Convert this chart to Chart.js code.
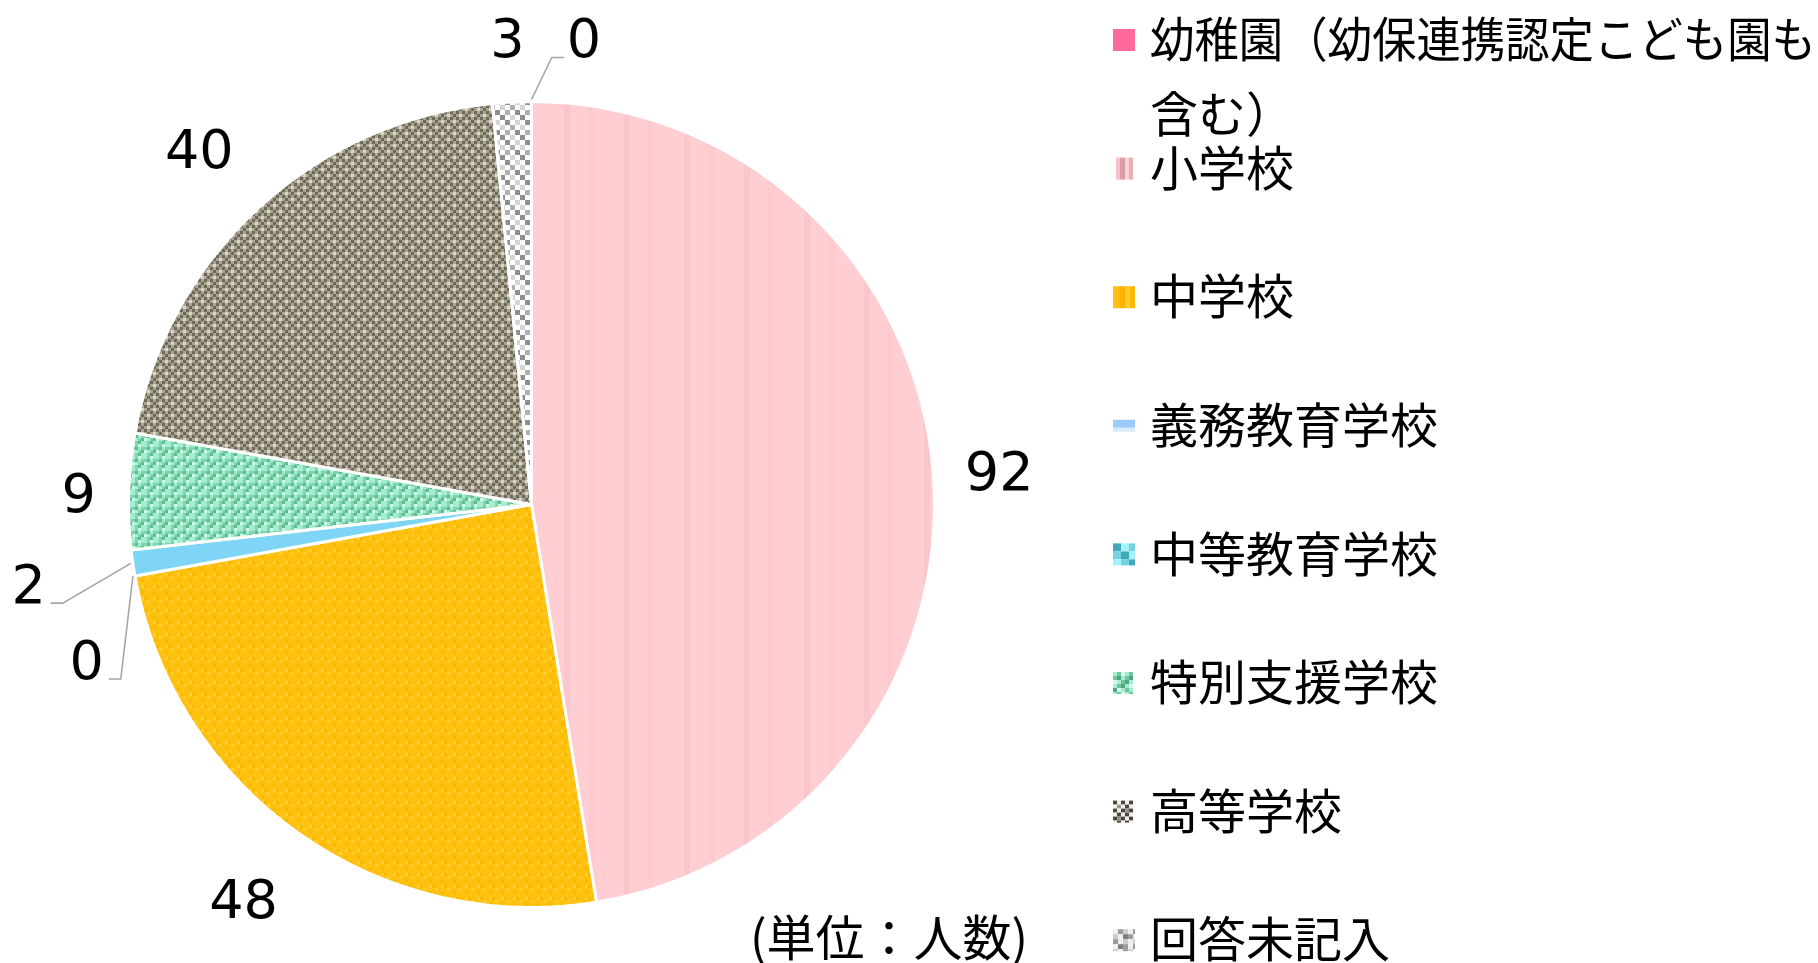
<!DOCTYPE html>
<html><head><meta charset="utf-8">
<script src="https://cdn.jsdelivr.net/npm/chart.js@4.4.1/dist/chart.umd.min.js"></script>
<style>html,body{margin:0;padding:0;background:#fff;} #wrap{width:1818px;height:963px;position:relative;}</style>
</head><body><div id="wrap"><canvas id="c"></canvas></div>
<script>
// ---- data ----
const categories = ['幼稚園（幼保連携認定こども園も含む）','小学校','中学校','義務教育学校','中等教育学校','特別支援学校','高等学校','回答未記入'];
const counts = [0, 92, 48, 0, 2, 9, 40, 3];
const unitNote = '(単位：人数)';

// ---- label placement (style) ----
const labelNudgeDeg = [6.41, 0.42, 0.91, -8.94, -0.53, -0.28, -0.32, -0.16];
const labelExtra = [67, 66, 85, 68, 106, 50, 84, 65];
const labelLeader = [true, false, false, true, true, false, false, false];

function tile(cell, grid, pal) {
  const c = document.createElement('canvas');
  c.width = grid[0].length * cell; c.height = grid.length * cell;
  const x = c.getContext('2d');
  grid.forEach((row, r) => { [...row].forEach((k, i) => { x.fillStyle = pal[k]; x.fillRect(i*cell, r*cell, cell, cell); }); });
  return x.createPattern(c, 'repeat');
}
const pinkPat = tile(3, ['AAAAAAAABBAAAAAACCAA'], {A:'#FFCED3', B:'#FAC6CB', C:'#FCCACF'});
const yellowPat = tile(3, ['ABAA','AAAC','AAAA','CAAB'], {A:'#FFC10F', B:'#FFCC35', C:'#F7B800'});
const mintPat = tile(3, ['ABCA','BDAB','CABD','ABDA'], {A:'#A4EED0', B:'#7ED6AF', C:'#C9FBE7', D:'#62B891'});
const tanPat = tile(3, ['ABAC','BABA','ACAB','BABA'], {A:'#ABA594', B:'#6E6859', C:'#DCD6C6'});
const greyPat = tile(5, ['ABAC','CADA','ADAB','BACA'], {A:'#FFFFFF', B:'#8E8E8E', C:'#D4D4D4', D:'#B0B0B0'});
const sliceFills = ['#FF6A9B', pinkPat, yellowPat, '#9CCBFA', '#7FD5F5', mintPat, tanPat, greyPat];

function drawMarker(ctx, i, x, cy) {
  const s = 22, y = cy - s/2;
  const cells = (cell, grid, pal) => grid.forEach((row, r) => [...row].forEach((k, j) => {
    const w = Math.min(cell, s - j*cell), h = Math.min(cell, s - r*cell);
    if (w > 0 && h > 0) { ctx.fillStyle = pal[k]; ctx.fillRect(x + j*cell, y + r*cell, w, h); }
  }));
  switch (i) {
    case 0: ctx.fillStyle = '#FF6A9B'; ctx.fillRect(x, y, s, s); break;
    case 1: { const cols = [['#FFFFFF',3],['#F6C4C8',4],['#D99DA3',5],['#FAD3D6',4],['#E8B0B5',4],['#FFFFFF',2]]; let xx = x;
      cols.forEach(([c,w]) => { ctx.fillStyle = c; ctx.fillRect(xx, y, w, s); xx += w; }); break; }
    case 2: { const cols = [['#FFC10F',7],['#FFB000',5],['#FFCA30',5],['#FFB800',5]]; let xx = x;
      cols.forEach(([c,w]) => { ctx.fillStyle = c; ctx.fillRect(xx, y, w, s); xx += w; }); break; }
    case 3: ctx.fillStyle = '#9CCBFA'; ctx.fillRect(x, cy - 6, s, 8); ctx.fillStyle = '#D9ECFD'; ctx.fillRect(x, cy + 2, s, 4); break;
    case 4: cells(8, ['ABC','CAB','BCA'], {A:'#3FA9BA', B:'#A7F1F9', C:'#74D3E2'}); break;
    case 5: cells(4, ['ABCAB','BDABD','CABDA','ABDAC','DCABA','ABCAB'], {A:'#A4EED0', B:'#6FC59E', C:'#D6FCEE', D:'#4FA57E'}); break;
    case 6: cells(4, ['ABABA','BCBAB','ABACA','BABAB','ACABA','BABAB'], {A:'#4A463E', B:'#F0EEE8', C:'#9A968C'}); break;
    case 7: cells(5, ['ABCAB','CADBA','BACAC','ADBAB','CABCA'], {A:'#EEEEEE', B:'#9A9A9A', C:'#CCCCCC', D:'#7E7E7E'}); break;
  }
}

const overlay = {
  id: 'overlay',
  afterDraw(chart) {
    const ctx = chart.ctx;
    const meta = chart.getDatasetMeta(0);
    ctx.save();
    // value labels
    ctx.font = '54px "DejaVu Sans"';
    ctx.textAlign = 'center'; ctx.textBaseline = 'alphabetic';
    meta.data.forEach((arc, i) => {
      const {x: cx, y: cy, startAngle, endAngle, outerRadius} = arc.getProps(['x','y','startAngle','endAngle','outerRadius'], true);
      const mid = (startAngle + endAngle) / 2;
      const a = mid + labelNudgeDeg[i] * Math.PI / 180;
      const d = outerRadius + labelExtra[i];
      const lx = cx + d * Math.cos(a), ly = cy + d * Math.sin(a);
      const txt = String(counts[i]);
      const w = ctx.measureText(txt).width;
      ctx.fillStyle = '#000';
      ctx.fillText(txt, lx, ly + 0.365 * 54);
      if (labelLeader[i]) {
        const sx = cx + (outerRadius + 2) * Math.cos(mid), sy = cy + (outerRadius + 2) * Math.sin(mid);
        const left = lx < cx;
        const ex = left ? lx + w/2 + 5 : lx - w/2 - 3;
        const ey = ly + 20;
        const bx = left ? ex + 12 : ex - 12;
        ctx.strokeStyle = '#A6A6A6'; ctx.lineWidth = 1.6;
        ctx.beginPath(); ctx.moveTo(sx, sy); ctx.lineTo(bx, ey); ctx.lineTo(ex, ey); ctx.stroke();
      }
    });
    // unit note
    ctx.font = '49px "Noto Sans CJK JP"';
    ctx.fillStyle = '#000';
    ctx.fillText(unitNote, 889, 937 + 0.38 * 49);
    // legend
    const fs = 48;
    ctx.font = fs + 'px "Noto Sans CJK JP"';
    ctx.textAlign = 'left';
    const tx = 1150, mx = 1113, maxW = 1818 - tx - 2;
    categories.forEach((lab, i) => {
      const cy = 40 + i * 128.6;
      drawMarker(ctx, i, mx, cy);
      const lines = []; let cur = '';
      for (const ch of lab) {
        if (ctx.measureText(cur + ch).width > maxW * 1.1 && cur) { lines.push(cur); cur = ch; } else cur += ch;
      }
      if (cur) lines.push(cur);
      ctx.fillStyle = '#000';
      lines.forEach((ln, k) => ctx.fillText(ln, tx, cy - 1 + k * 75 + 0.38 * fs, maxW));
    });
    ctx.restore();
  }
};

new Chart(document.getElementById('c'), {
  type: 'pie',
  data: {
    labels: categories,
    datasets: [{ data: counts, backgroundColor: sliceFills, borderColor: '#FFFFFF', borderWidth: 3 }]
  },
  options: {
    responsive: true, maintainAspectRatio: false, animation: false, events: [],
    layout: { padding: { top: 100, bottom: 54, left: 127, right: 882 } },
    plugins: { legend: { display: false }, tooltip: { enabled: false } }
  },
  plugins: [overlay]
});
</script>
</body></html>
